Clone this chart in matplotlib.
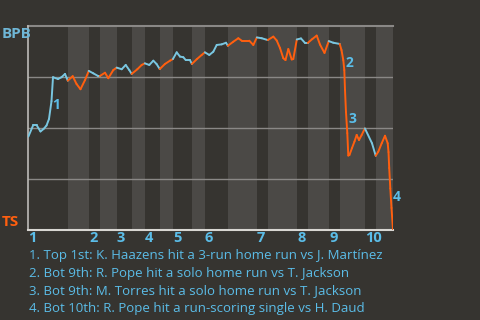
import numpy as np
import matplotlib
matplotlib.use("Agg")
import matplotlib.pyplot as plt
from matplotlib.collections import LineCollection

# Game progress (0-100) and BPB win probability
prog = [0.1, 1.45, 2.33, 3.42, 4.25, 5.07, 5.75, 6.44, 6.85, 8.22, 9.18, 10.14, 10.9,
        12.25, 13.29, 14.38, 15.62, 16.65,
        17.89, 19.18, 19.7,
        21.10, 22.00, 23.37, 24.3,
        25.67, 26.77, 27.75, 28.4,
        29.95, 31.15, 32.0,
        33.23, 34.33, 35.21, 36.1,
        37.53, 38.90, 39.7,
        40.74, 41.64, 42.55, 43.21, 44.38, 44.9,
        46.22, 47.59, 48.45,
        49.67, 50.77, 51.70, 53.07, 54.25, 54.75,
        56.25, 57.62, 58.55, 60.63, 61.73, 62.7,
        64.03, 65.7,
        67.21, 68.14, 69.04, 69.95, 70.55, 71.32, 72.25, 72.68, 73.65,
        74.79, 75.89, 76.65,
        77.89, 79.10, 80.0, 81.23, 82.4,
        83.64, 85.4,
        85.89, 86.38, 86.66, 86.85, 87.12, 87.48, 87.75, 88.08, 88.77, 89.45, 90.05, 90.68, 91.42, 92.3,
        94.25, 95.26,
        95.97, 96.90, 97.81, 98.55, 98.77, 98.96, 99.26, 99.59, 100.0]
wp = [0.458, 0.515, 0.515, 0.483, 0.495, 0.512, 0.544, 0.632, 0.749, 0.740, 0.749, 0.765, 0.732,
      0.754, 0.716, 0.690, 0.735, 0.780,
      0.768, 0.755, 0.755,
      0.771, 0.744, 0.784, 0.796,
      0.788, 0.809, 0.784, 0.765,
      0.788, 0.809, 0.817,
      0.809, 0.830, 0.814, 0.789,
      0.814, 0.830, 0.838,
      0.871, 0.850, 0.847, 0.833, 0.833, 0.814,
      0.837, 0.858, 0.871,
      0.858, 0.874, 0.907, 0.910, 0.918, 0.903,
      0.923, 0.940, 0.928, 0.928, 0.907, 0.944,
      0.940, 0.931,
      0.948, 0.929, 0.892, 0.842, 0.833, 0.887, 0.836, 0.838, 0.934,
      0.939, 0.917, 0.917,
      0.936, 0.953, 0.909, 0.868, 0.926,
      0.918, 0.912,
      0.882, 0.833, 0.784, 0.686, 0.578, 0.475, 0.365, 0.368, 0.402, 0.434, 0.466, 0.441, 0.466, 0.498,
      0.425, 0.364,
      0.384, 0.425, 0.462, 0.425, 0.382, 0.304, 0.204, 0.108, 0.002]

# Start of each half-inning (top, bottom, top, ...)
half_starts = [0, 10.96, 16.71, 19.73, 24.38, 28.49, 32.05, 36.16, 39.73, 44.93,
               48.49, 54.79, 62.74, 65.75, 73.70, 76.71, 82.47, 85.48, 92.33, 95.34]
game_end = 100.0
innings = ["1", "2", "3", "4", "5", "6", "7", "8", "9", "10"]

events_num = ["1", "2", "3", "4"]
events_pos = [(7.81, 0.613), (87.95, 0.819), (88.77, 0.544), (101.1, 0.162)]
events_text = [
    "1. Top 1st: K. Haazens hit a 3-run home run vs J. Martínez",
    "2. Bot 9th: R. Pope hit a solo home run vs T. Jackson",
    "3. Bot 9th: M. Torres hit a solo home run vs T. Jackson",
    "4. Bot 10th: R. Pope hit a run-scoring single vs H. Daud",
]

BG = "#363430"
BAND = "#4b4946"
BLUE = "#79c6e0"
ORANGE = "#ff5f0f"
TXTBLUE = "#5bbde8"

plt.rcParams['font.family'] = ['Open Sans', 'DejaVu Sans']

fig = plt.figure(figsize=(4.8, 3.2), dpi=100, facecolor=BG)
ax = fig.add_axes([28/480, 90/320, 365/480, 204/320])
ax.set_facecolor(BG)
ax.set_xlim(0, game_end)
ax.set_ylim(0, 1)

ends = half_starts[1:] + [game_end]
for i, (s, e) in enumerate(zip(half_starts, ends)):
    if i % 2 == 1:
        ax.axvspan(s, e, color=BAND, lw=0, zorder=0)

for yv in [0.25, 0.5, 0.75]:
    ax.axhline(yv, color="#8a8886", lw=1.0, zorder=1)
ax.axhline(1.0, color="#8a8886", lw=1.5, zorder=1, clip_on=False)

x = np.array(prog)
y = np.array(wp)
half = np.searchsorted(np.array(half_starts), x, side='right') - 1
pts = np.column_stack([x, y])
segs = np.stack([pts[:-1], pts[1:]], axis=1)
cols = [BLUE if half[i + 1] % 2 == 0 else ORANGE for i in range(len(segs))]
lc = LineCollection(segs, colors=cols, linewidths=1.4, zorder=3, capstyle='round', joinstyle='round')
ax.add_collection(lc)

for s in ['top', 'right']:
    ax.spines[s].set_visible(False)
ax.spines['left'].set_color("#bdbbb8")
ax.spines['left'].set_linewidth(1.2)
ax.spines['bottom'].set_color("#d8d6d2")
ax.spines['bottom'].set_linewidth(1.5)

ax.set_yticks([])
inning_starts = half_starts[0::2]
ax.set_xticks(inning_starts)
ax.set_xticklabels(innings, color=TXTBLUE, fontsize=10.5, fontweight='bold')
for lab in ax.get_xticklabels():
    lab.set_horizontalalignment('left')
ax.tick_params(axis='x', length=0, pad=1)

fig.text(2/480, 1 - 34/320, "BPB", color="#6fb6d6", fontsize=11, fontweight='bold',
         ha='left', va='center')
fig.text(2/480, 1 - 222/320, "TS", color=ORANGE, fontsize=11, fontweight='bold',
         ha='left', va='center')

for num, (ex, ey) in zip(events_num, events_pos):
    ax.text(ex, ey, num, color=TXTBLUE, fontsize=10, fontweight='bold',
            ha='center', va='center', clip_on=False, zorder=4)

for i, t in enumerate(events_text):
    fig.text(29/480, 1 - (255.5 + 17.7 * i)/320, t, color=TXTBLUE, fontsize=9.55,
             ha='left', va='center')

fig.savefig("out.png", dpi=100, facecolor=BG)
